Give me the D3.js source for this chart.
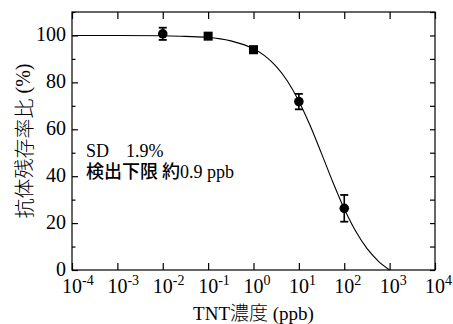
<!DOCTYPE html>
<html>
<head>
<meta charset="utf-8">
<script src="https://cdn.jsdelivr.net/npm/d3@7"></script>
<style>
  body { margin: 0; background: #fff; }
  svg { display: block; }
  .serif { font-family: "Liberation Serif", "DejaVu Serif", serif; }
  .jp { font-family: "Noto Sans CJK JP", sans-serif; }
</style>
</head>
<body>
<svg id="chart" width="453" height="324"></svg>
<script>
'use strict';

// measured points: concentration (ppb), residual ratio (%), error, marker
var concs = [0.01, 0.1, 1, 10, 100];
var ratios = [100.7, 99.7, 93.9, 71.8, 26.3];
var errors = [2.6, 1.0, 1.4, 3.3, 5.7];
var markers = ['circle', 'square', 'square', 'circle', 'circle'];

// fitted curve (log10 concentration, %)
var curveLog = [-4, -3, -2, -1.5, -1, -0.5, 0, 0.25, 0.5, 0.75, 1, 1.25,
  1.5, 1.75, 2, 2.25, 2.5, 2.75, 3];
var curveVal = [100, 100, 99.9, 99.6, 99.2, 97.7, 94.3, 91.3, 86.8, 80.5,
  72.0, 61.5, 49.6, 37.4, 26.1, 16.6, 9.2, 3.8, 0];

var xExponents = [-4, -3, -2, -1, 0, 1, 2, 3, 4];
var yMajor = [0, 20, 40, 60, 80, 100];
var yMinor = [10, 30, 50, 70, 90, 110];
var yAll = [0, 10, 20, 30, 40, 50, 60, 70, 80, 90, 100, 110];

var svg = d3.select('#chart');
var plotL = 72, plotR = 435, plotT = 12, plotB = 270;

var x = d3.scaleLog().domain([1e-4, 1e4]).range([plotL, plotR]);
var y = d3.scaleLinear().domain([0, 110]).range([plotB, plotT]);

var tickVals = xExponents.map(function(e) { return Math.pow(10, e); });

// frame
svg.append('rect')
  .attr('x', plotL).attr('y', plotT)
  .attr('width', plotR - plotL).attr('height', plotB - plotT)
  .attr('fill', 'none').attr('stroke', '#000').attr('stroke-width', 1.2);

function styleAxis(g) {
  g.select('.domain').remove();
  g.selectAll('.tick line').attr('stroke', '#000').attr('stroke-width', 1.2);
}

// bottom and top decade ticks (inward)
svg.append('g').attr('transform', 'translate(0,' + plotB + ')')
  .call(d3.axisBottom(x).tickValues(tickVals).tickSize(-7).tickFormat(''))
  .call(styleAxis);
svg.append('g').attr('transform', 'translate(0,' + plotT + ')')
  .call(d3.axisTop(x).tickValues(tickVals).tickSize(-7).tickFormat(''))
  .call(styleAxis);

// left ticks: major + minor
svg.append('g').attr('transform', 'translate(' + plotL + ',0)')
  .call(d3.axisLeft(y).tickValues(yMajor).tickSize(-6).tickFormat(''))
  .call(styleAxis);
svg.append('g').attr('transform', 'translate(' + plotL + ',0)')
  .call(d3.axisLeft(y).tickValues(yMinor).tickSize(-3.5).tickFormat(''))
  .call(styleAxis);
// right ticks
svg.append('g').attr('transform', 'translate(' + plotR + ',0)')
  .call(d3.axisRight(y).tickValues(yAll).tickSize(-5).tickFormat(''))
  .call(styleAxis);

// y tick labels
svg.append('g').selectAll('text').data(yMajor).enter().append('text')
  .attr('class', 'serif')
  .attr('x', plotL - 6)
  .attr('y', function(d) { return y(d) + 6; })
  .attr('text-anchor', 'end')
  .attr('font-size', 20)
  .text(function(d) { return d; });

// x tick labels 10^n
var xl = svg.append('g').selectAll('text').data(xExponents).enter()
  .append('text')
  .attr('class', 'serif')
  .attr('x', function(d) { return x(Math.pow(10, d)) - 10; })
  .attr('y', plotB + 23)
  .attr('font-size', 20);
xl.append('tspan').text('10');
xl.append('tspan')
  .attr('dy', -8)
  .attr('font-size', 14)
  .text(function(d) { return d; });

// axis titles
svg.append('text')
  .attr('x', (plotL + plotR) / 2)
  .attr('y', 320)
  .attr('text-anchor', 'middle')
  .attr('font-size', 19)
  .call(function(t) {
    t.append('tspan').attr('class', 'serif').text('TNT');
    t.append('tspan').attr('class', 'jp').attr('font-weight', 300).text('濃度');
    t.append('tspan').attr('class', 'serif').text(' (ppb)');
  });

svg.append('text')
  .attr('transform', 'translate(23,' + ((plotT + plotB) / 2) + ') rotate(-90)')
  .attr('text-anchor', 'middle')
  .attr('dominant-baseline', 'central')
  .attr('font-size', 20)
  .call(function(t) {
    t.append('tspan').attr('class', 'jp').attr('font-weight', 300).text('抗体残存率比');
    t.append('tspan').attr('class', 'serif').text(' (%)');
  });

// fitted curve
var line = d3.line()
  .x(function(d) { return x(Math.pow(10, d[0])); })
  .y(function(d) { return y(d[1]); })
  .curve(d3.curveMonotoneX);
svg.append('path')
  .datum(d3.zip(curveLog, curveVal))
  .attr('d', line)
  .attr('fill', 'none')
  .attr('stroke', '#000')
  .attr('stroke-width', 1.1);

// error bars + markers
var pts = svg.append('g').selectAll('g').data(d3.range(concs.length))
  .enter().append('g')
  .attr('transform', function(i) {
    return 'translate(' + x(concs[i]) + ',0)';
  });
pts.append('line')
  .attr('y1', function(i) { return y(ratios[i] + errors[i]); })
  .attr('y2', function(i) { return y(ratios[i] - errors[i]); })
  .attr('stroke', '#000').attr('stroke-width', 1.6);
[1, -1].forEach(function(s) {
  pts.append('line')
    .attr('x1', -4).attr('x2', 4)
    .attr('y1', function(i) { return y(ratios[i] + s * errors[i]); })
    .attr('y2', function(i) { return y(ratios[i] + s * errors[i]); })
    .attr('stroke', '#000').attr('stroke-width', 1.8);
});
pts.filter(function(i) { return markers[i] === 'circle'; })
  .append('circle')
  .attr('cy', function(i) { return y(ratios[i]); })
  .attr('r', 4.8)
  .attr('fill', '#000');
pts.filter(function(i) { return markers[i] === 'square'; })
  .append('rect')
  .attr('x', -4.5)
  .attr('y', function(i) { return y(ratios[i]) - 4.5; })
  .attr('width', 9).attr('height', 9)
  .attr('fill', '#000');

// annotation
svg.append('text')
  .attr('class', 'serif')
  .attr('y', 157)
  .attr('font-size', 18)
  .call(function(t) {
    t.append('tspan').attr('x', 86).text('SD');
    t.append('tspan').attr('x', 126).text('1.9%');
  });
svg.append('text')
  .attr('x', 86).attr('y', 178)
  .attr('font-size', 18)
  .call(function(t) {
    t.append('tspan').attr('class', 'jp').attr('font-weight', 500).text('検出下限 約');
    t.append('tspan').attr('class', 'serif').text('0.9 ppb');
  });
</script>
</body>
</html>
